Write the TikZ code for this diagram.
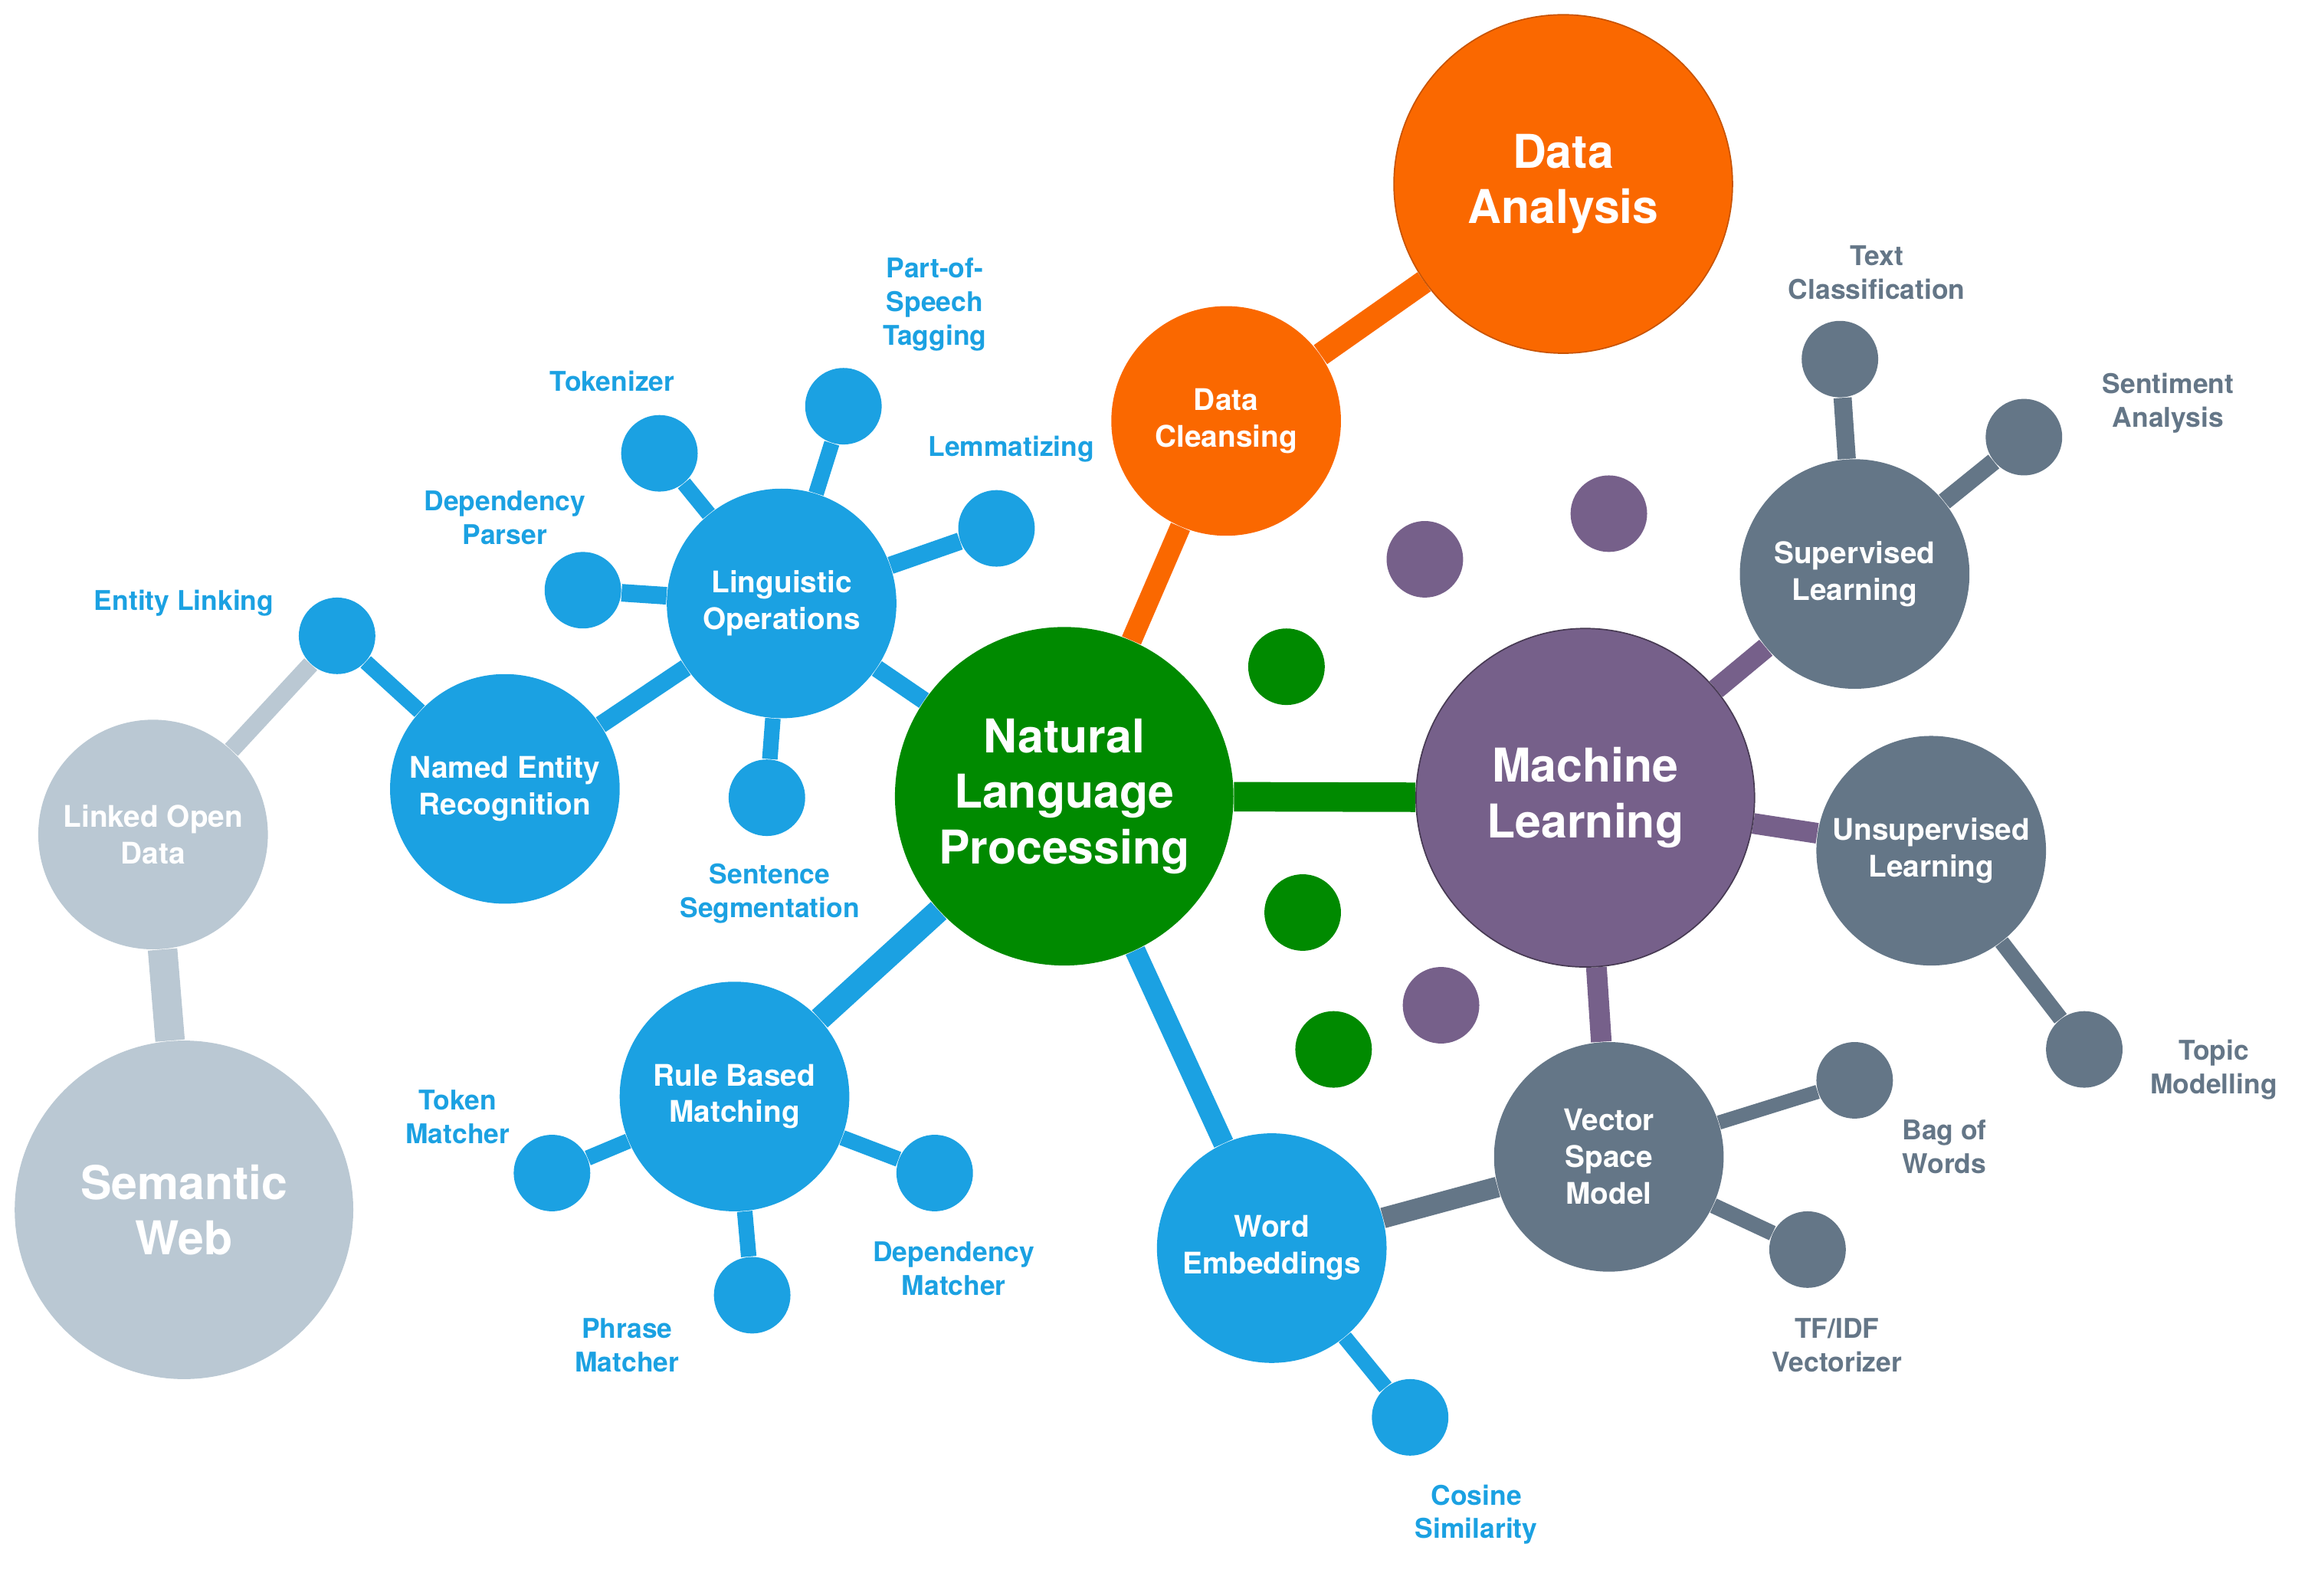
\documentclass[tikz,border=0pt]{standalone}
\usepackage{fontspec}
\setmainfont{TeX Gyre Heros}
\usepackage{tikz}
\usetikzlibrary{backgrounds}
\definecolor{nlpgreen}{HTML}{008A00}
\definecolor{nlpblue}{HTML}{1BA1E2}
\definecolor{nlporange}{HTML}{FA6800}
\definecolor{nlppurple}{HTML}{76608A}
\definecolor{nlpslate}{HTML}{647687}
\definecolor{nlpsky}{HTML}{BAC8D3}

\begin{document}
\begin{tikzpicture}[x=0.2mm,y=-0.2mm,
  hub/.style={circle,fill=#1,inner sep=0pt,text=white,align=center},
  big/.style={hub=#1,minimum size=46mm,font=\fontsize{18}{21.5}\selectfont\bfseries},
  mid/.style={hub=#1,minimum size=31.2mm,font=\fontsize{11.5}{14.2}\selectfont\bfseries},
  leaf/.style={circle,fill=#1,inner sep=0pt,minimum size=10.4mm},
  tag/.style={text=#1,align=center,inner sep=0pt,font=\fontsize{10.5}{13}\selectfont\bfseries},
  link/.style={draw=#1}
  ]
\useasboundingbox (0,0) rectangle (1568,1084);
% main hubs
\node[big=nlpgreen] (nlp) at (723,541) {Natural\\Language\\Processing};
\node[big=nlppurple,draw=nlppurple!60!black,line width=0.5pt] (ml) at (1077,542) {Machine\\Learning};
\node[big=nlporange,draw=nlporange!80!black,line width=0.5pt] (analysis) at (1062,125) {Data\\Analysis};
\node[big=nlpsky] (semweb) at (125,822) {Semantic\\Web};
% second level
\node[mid=nlporange] (cleansing) at (833,286) {Data\\Cleansing};
\node[mid=nlpblue] (lingops) at (531,410) {Linguistic\\Operations};
\node[mid=nlpblue] (ner) at (343,536) {Named Entity\\Recognition};
\node[mid=nlpblue] (rules) at (499,745) {Rule Based\\Matching};
\node[mid=nlpblue] (embed) at (864,848) {Word\\Embeddings};
\node[mid=nlpslate] (vsm) at (1093,786) {Vector\\Space\\Model};
\node[mid=nlpslate] (superv) at (1260,390) {Supervised\\Learning};
\node[mid=nlpslate] (unsuperv) at (1312,578) {Unsupervised\\Learning};
\node[mid=nlpsky] (lod) at (104,567) {Linked Open\\Data};
% leaves
\node[leaf=nlpblue] (tokleaf) at (448,308) {};    % tokenizer
\node[leaf=nlpblue] (posleaf) at (573,276) {};    % part-of-speech
\node[leaf=nlpblue] (lemleaf) at (677,359) {};    % lemmatizing
\node[leaf=nlpblue] (depleaf) at (396,401) {};    % dependency parser
\node[leaf=nlpblue] (segleaf) at (521,542) {};    % sentence segmentation
\node[leaf=nlpblue] (linkleaf) at (229,432) {};   % entity linking
\node[leaf=nlpblue] (tmleaf) at (375,797) {};     % token matcher
\node[leaf=nlpblue] (pmleaf) at (511,880) {};     % phrase matcher
\node[leaf=nlpblue] (dmleaf) at (635,797) {};     % dependency matcher
\node[leaf=nlpblue] (cosleaf) at (958,963) {};    % cosine similarity
\node[leaf=nlpslate] (bowleaf) at (1260,734) {};  % bag of words
\node[leaf=nlpslate] (tfidfleaf) at (1228,849) {};% tf/idf
\node[leaf=nlpslate] (topicleaf) at (1416,713) {};% topic modelling
\node[leaf=nlpslate] (classleaf) at (1250,244) {};% text classification
\node[leaf=nlpslate] (sentleaf) at (1375,297) {}; % sentiment analysis
% loose dots
\node[leaf=nlpgreen] (gdotA) at (874,453) {};
\node[leaf=nlpgreen] (gdotB) at (885,620) {};
\node[leaf=nlpgreen] (gdotC) at (906,713) {};
\node[leaf=nlppurple] (pdotA) at (968,380) {};
\node[leaf=nlppurple] (pdotB) at (1093,349) {};
\node[leaf=nlppurple] (pdotC) at (979,683) {};
% leaf labels
\node[tag=nlpblue] (postag) at (635,207) {Part-of-\\Speech\\Tagging};
\node[tag=nlpblue] (toktag) at (416,259) {Tokenizer};
\node[tag=nlpblue] (lemtag) at (687,305) {Lemmatizing};
\node[tag=nlpblue] (deptag) at (343,352) {Dependency\\Parser};
\node[tag=nlpblue] (linktag) at (125,410) {Entity Linking};
\node[tag=nlpblue] (segtag) at (523,607) {Sentence\\Segmentation};
\node[tag=nlpblue] (tmtag) at (311,759) {Token\\Matcher};
\node[tag=nlpblue] (pmtag) at (426,914) {Phrase\\Matcher};
\node[tag=nlpblue] (dmtag) at (648,862) {Dependency\\Matcher};
\node[tag=nlpblue] (costag) at (1003,1029) {Cosine\\Similarity};
\node[tag=nlpslate] (bowtag) at (1321,779) {Bag of\\Words};
\node[tag=nlpslate] (tfidftag) at (1248,914) {TF/IDF\\Vectorizer};
\node[tag=nlpslate] (topictag) at (1504,727) {Topic\\Modelling};
\node[tag=nlpslate] (classtag) at (1275,185) {Text\\Classification};
\node[tag=nlpslate] (senttag) at (1473,274) {Sentiment\\Analysis};
% connectors behind the circles
\begin{scope}[on background layer]
\draw[link=nlpgreen,line width=11.4pt] (nlp) -- (ml);
\draw[link=nlporange,line width=8pt] (nlp) -- (cleansing);
\draw[link=nlporange,line width=9pt] (cleansing) -- (analysis);
\draw[link=nlpblue,line width=6.8pt] (nlp) -- (lingops);
\draw[link=nlpblue,line width=9pt] (nlp) -- (rules);
\draw[link=nlpblue,line width=8pt] (nlp) -- (embed);
\draw[link=nlpblue,line width=6.8pt] (lingops) -- (ner);
\draw[link=nlpblue,line width=6pt] (lingops) -- (tokleaf);
\draw[link=nlpblue,line width=6pt] (lingops) -- (posleaf);
\draw[link=nlpblue,line width=6.8pt] (lingops) -- (lemleaf);
\draw[link=nlpblue,line width=6.8pt] (lingops) -- (depleaf);
\draw[link=nlpblue,line width=6pt] (lingops) -- (segleaf);
\draw[link=nlpblue,line width=6pt] (ner) -- (linkleaf);
\draw[link=nlpsky,line width=6.8pt] (lod) -- (linkleaf);
\draw[link=nlpsky,line width=11.4pt] (lod) -- (semweb);
\draw[link=nlpblue,line width=6pt] (rules) -- (tmleaf);
\draw[link=nlpblue,line width=6pt] (rules) -- (pmleaf);
\draw[link=nlpblue,line width=6pt] (rules) -- (dmleaf);
\draw[link=nlpblue,line width=6pt] (embed) -- (cosleaf);
\draw[link=nlpslate,line width=8pt] (embed) -- (vsm);
\draw[link=nlpslate,line width=5.5pt] (vsm) -- (bowleaf);
\draw[link=nlpslate,line width=6pt] (vsm) -- (tfidfleaf);
\draw[link=nlppurple,line width=8pt] (ml) -- (vsm);
\draw[link=nlppurple,line width=8pt] (ml) -- (superv);
\draw[link=nlppurple,line width=8pt] (ml) -- (unsuperv);
\draw[link=nlpslate,line width=7pt] (superv) -- (classleaf);
\draw[link=nlpslate,line width=6.8pt] (superv) -- (sentleaf);
\draw[link=nlpslate,line width=6pt] (unsuperv) -- (topicleaf);
\end{scope}
\end{tikzpicture}
\end{document}
